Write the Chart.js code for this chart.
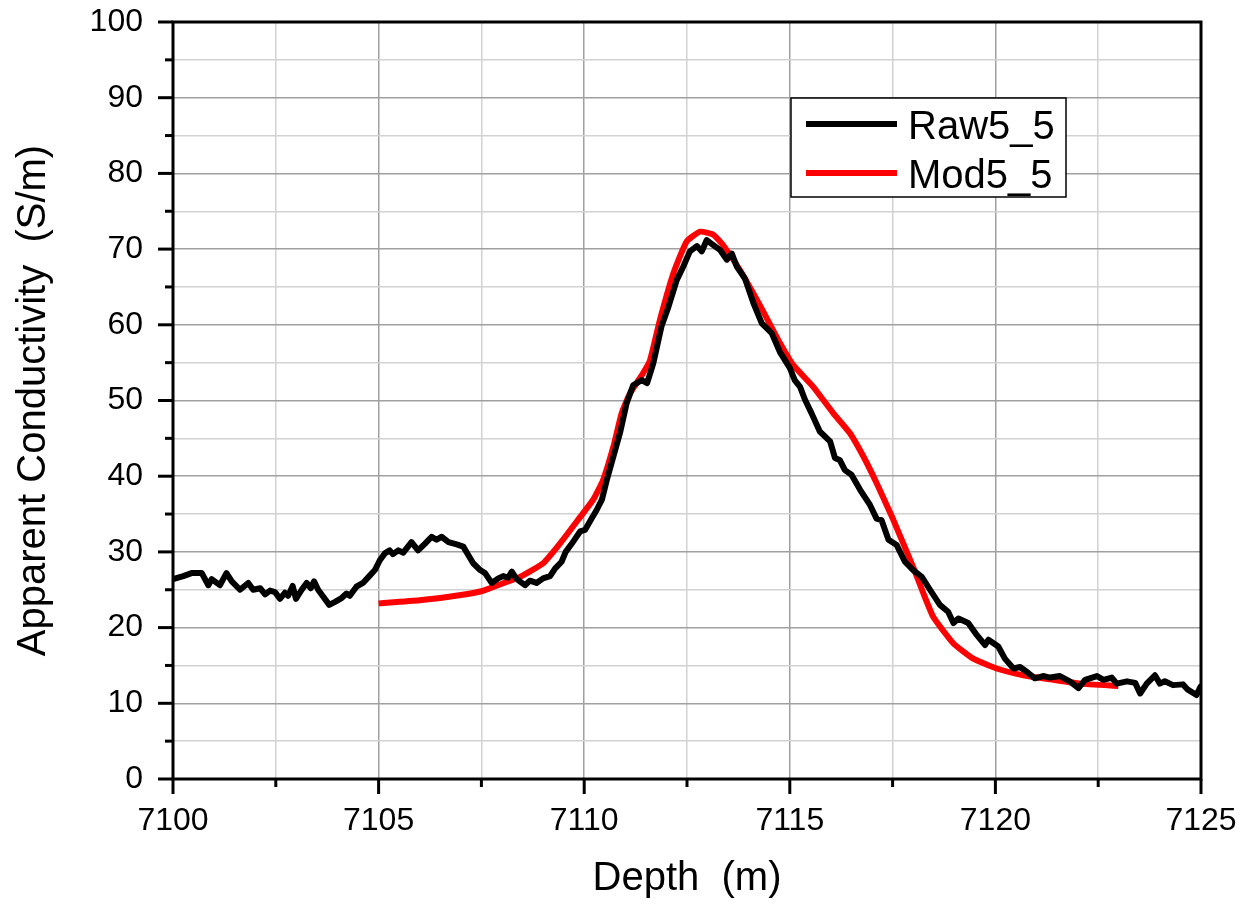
<!DOCTYPE html>
<html>
<head>
<meta charset="utf-8">
<script src="https://cdn.jsdelivr.net/npm/chart.js@4/dist/chart.umd.min.js"></script>
<style>
  html, body { margin: 0; padding: 0; background: #fff; }
  canvas { display: block; }
</style>
</head>
<body>
<canvas id="c" width="1241" height="904"></canvas>
<script>
// ---- Data ----
const rawDepth = [
  7100.0, 7100.25, 7100.45, 7100.7, 7100.86, 7100.94, 7101.14, 7101.3, 7101.43, 7101.63,
  7101.83, 7101.95, 7102.12, 7102.24, 7102.36, 7102.48, 7102.6, 7102.72, 7102.8, 7102.91,
  7102.99, 7103.13, 7103.25, 7103.35, 7103.43, 7103.53, 7103.65, 7103.8, 7103.94, 7104.1,
  7104.22, 7104.3, 7104.46, 7104.62, 7104.79, 7104.91, 7105.03, 7105.15, 7105.27, 7105.35,
  7105.48, 7105.6, 7105.7, 7105.8, 7105.96, 7106.13, 7106.29, 7106.41, 7106.53, 7106.7,
  7106.9, 7107.06, 7107.18, 7107.3, 7107.47, 7107.59, 7107.75, 7107.91, 7108.03, 7108.15,
  7108.24, 7108.36, 7108.56, 7108.68, 7108.84, 7109.0, 7109.17, 7109.29, 7109.45, 7109.55,
  7109.7, 7109.9, 7110.02, 7110.18, 7110.3, 7110.43, 7110.55, 7110.71, 7110.87, 7111.03,
  7111.19, 7111.4, 7111.53, 7111.68, 7111.88, 7112.05, 7112.25, 7112.41, 7112.57, 7112.74,
  7112.86, 7112.98, 7113.1, 7113.3, 7113.47, 7113.59, 7113.71, 7113.91, 7114.12, 7114.32,
  7114.56, 7114.76, 7115.0, 7115.12, 7115.25, 7115.37, 7115.53, 7115.73, 7115.98, 7116.1,
  7116.22, 7116.34, 7116.5, 7116.71, 7116.95, 7117.11, 7117.23, 7117.4, 7117.6, 7117.8,
  7118.0, 7118.21, 7118.41, 7118.65, 7118.85, 7118.98, 7119.1, 7119.34, 7119.55, 7119.75,
  7119.83, 7120.07, 7120.23, 7120.44, 7120.6, 7120.8, 7120.96, 7121.16, 7121.33, 7121.57,
  7121.81, 7122.02, 7122.18, 7122.47, 7122.63, 7122.83, 7122.95, 7123.2, 7123.4, 7123.52,
  7123.68, 7123.88, 7124.0, 7124.12, 7124.32, 7124.56, 7124.68, 7124.89, 7124.99
];
const rawValue = [
  26.4, 26.8, 27.2, 27.2, 25.6, 26.4, 25.6, 27.2, 26.1, 25.0,
  25.9, 25.0, 25.2, 24.4, 24.9, 24.7, 23.8, 24.6, 24.2, 25.5,
  23.8, 25.0, 25.9, 25.2, 26.1, 25.0, 24.1, 23.0, 23.4, 23.9,
  24.5, 24.2, 25.4, 25.9, 26.9, 27.6, 28.9, 29.8, 30.2, 29.7,
  30.2, 29.9, 30.6, 31.3, 30.2, 31.1, 32.0, 31.6, 32.0, 31.3,
  31.0, 30.7, 29.6, 28.5, 27.6, 27.2, 25.9, 26.5, 26.8, 26.6,
  27.4, 26.4, 25.6, 26.2, 25.9, 26.5, 26.8, 27.8, 28.7, 30.0,
  31.1, 32.7, 32.9, 34.4, 35.5, 36.9, 39.5, 42.6, 45.7, 49.6,
  52.0, 52.7, 52.3, 54.9, 59.8, 62.4, 65.9, 67.7, 69.7, 70.4,
  69.7, 71.2, 70.7, 69.9, 68.6, 69.4, 67.7, 66.1, 62.8, 60.2,
  58.9, 56.4, 54.3, 52.7, 51.8, 50.1, 48.3, 45.9, 44.6, 42.4,
  42.1, 40.8, 40.2, 38.2, 36.2, 34.4, 34.2, 31.6, 30.9, 28.7,
  27.6, 26.7, 25.0, 23.0, 22.1, 20.6, 21.2, 20.6, 19.0, 17.7,
  18.4, 17.5, 15.9, 14.6, 14.8, 14.0, 13.3, 13.6, 13.4, 13.6,
  12.9, 12.0, 13.1, 13.6, 13.1, 13.4, 12.6, 12.9, 12.7, 11.3,
  12.6, 13.7, 12.6, 12.9, 12.4, 12.5, 11.8, 11.1, 12.2
];
const modDepth = [
  7105.0, 7106.0, 7107.0, 7107.5, 7108.0, 7108.44, 7109.0, 7109.41, 7109.9, 7110.22,
  7110.46, 7110.71, 7110.91, 7111.11, 7111.43, 7111.6, 7111.84, 7112.17, 7112.49, 7112.82,
  7113.14, 7113.38, 7113.79, 7114.27, 7114.76, 7115.08, 7115.57, 7116.06, 7116.46, 7116.79,
  7117.11, 7117.52, 7118.0, 7118.25, 7118.49, 7118.98, 7119.46, 7120.03, 7120.68, 7121.41,
  7122.06, 7122.99
];
const modValue = [
  23.2, 23.6, 24.3, 24.8, 25.8, 26.7, 28.5, 31.1, 34.6, 36.9,
  39.5, 43.9, 48.3, 50.9, 53.6, 55.3, 60.6, 66.8, 71.0, 72.3,
  71.9, 70.5, 67.2, 62.6, 57.6, 54.7, 51.8, 48.3, 45.7, 42.6,
  39.1, 34.2, 28.0, 24.5, 21.4, 17.9, 15.9, 14.6, 13.7, 13.1,
  12.6, 12.3
];
const seriesNames = ['Raw5_5', 'Mod5_5'];
const seriesColors = ['#000000', '#ff0000'];
const xTitle = 'Depth  (m)';
const yTitle = 'Apparent Conductivity  (S/m)';
const xMin = 7100, xMax = 7125, xStep = 2.5, xLabelStep = 5;
const yMin = 0, yMax = 100, yStep = 5, yLabelStep = 10;

// ---- Chart ----
const FONT = '"Liberation Sans", Arial, Helvetica, sans-serif';
const toPts = (xs, ys) => xs.map((x, i) => ({ x: x, y: ys[i] }));
const isMajor = (v, step) => Math.abs(v / step - Math.round(v / step)) < 1e-6;

const framePlugin = {
  id: 'frame',
  afterDraw(chart) {
    const { ctx, chartArea: a, scales } = chart;
    ctx.save();
    ctx.strokeStyle = '#000';
    ctx.lineWidth = 3;
    ctx.lineCap = 'butt';
    scales.x.ticks.forEach(t => {
      const px = scales.x.getPixelForValue(t.value);
      const len = isMajor(t.value, xLabelStep) ? 15 : 8;
      ctx.beginPath(); ctx.moveTo(px, a.bottom); ctx.lineTo(px, a.bottom + len); ctx.stroke();
    });
    scales.y.ticks.forEach(t => {
      const py = scales.y.getPixelForValue(t.value);
      const len = isMajor(t.value, yLabelStep) ? 15 : 8;
      ctx.beginPath(); ctx.moveTo(a.left, py); ctx.lineTo(a.left - len, py); ctx.stroke();
    });
    ctx.strokeRect(a.left, a.top, a.right - a.left, a.bottom - a.top);
    // legend
    const bx = 791, by = 98, bw = 275, bh = 99;
    ctx.fillStyle = '#fff';
    ctx.fillRect(bx, by, bw, bh);
    ctx.lineWidth = 1.5;
    ctx.strokeRect(bx, by, bw, bh);
    const rows = [124, 173];
    const baselines = [139, 188];
    chart.data.datasets.forEach((ds, i) => {
      ctx.strokeStyle = ds.borderColor;
      ctx.lineWidth = 6;
      ctx.beginPath(); ctx.moveTo(806, rows[i]); ctx.lineTo(897, rows[i]); ctx.stroke();
      ctx.fillStyle = '#000';
      ctx.font = '40px ' + FONT;
      ctx.textAlign = 'left';
      ctx.textBaseline = 'alphabetic';
      ctx.fillText(ds.label, 908, baselines[i]);
    });
    ctx.restore();
  }
};

new Chart(document.getElementById('c'), {
  type: 'line',
  data: {
    datasets: [
      { label: seriesNames[0], data: toPts(rawDepth, rawValue), borderColor: seriesColors[0],
        borderWidth: 6, pointRadius: 0, tension: 0, fill: false, borderJoinStyle: 'round', borderCapStyle: 'round' },
      { label: seriesNames[1], data: toPts(modDepth, modValue), borderColor: seriesColors[1],
        borderWidth: 6, pointRadius: 0, tension: 0.15, fill: false, borderJoinStyle: 'round', borderCapStyle: 'butt' }
    ]
  },
  options: {
    responsive: false,
    animation: false,
    devicePixelRatio: 1,
    layout: { padding: { top: 22, right: 40, bottom: 0, left: 0 } },
    plugins: { legend: { display: false }, tooltip: { enabled: false } },
    scales: {
      x: {
        type: 'linear', min: xMin, max: xMax,
        afterFit(s) { s.height = 125; s.paddingLeft = 0; s.paddingRight = 0; },
        grid: {
          drawTicks: false,
          color: c => isMajor(c.tick.value, xLabelStep) ? '#a0a0a0' : '#d2d2d2',
          lineWidth: 1.5
        },
        border: { display: false },
        ticks: {
          stepSize: xStep, autoSkip: false, maxRotation: 0, padding: 23,
          color: '#000', font: { family: FONT, size: 32 },
          callback: v => isMajor(v, xLabelStep) ? String(v) : ''
        },
        title: { display: true, text: xTitle, color: '#000', font: { family: FONT, size: 40 }, padding: { top: 0, bottom: 1 } }
      },
      y: {
        type: 'linear', min: yMin, max: yMax,
        afterFit(s) { s.width = 173; s.paddingTop = 0; s.paddingBottom = 0; },
        grid: {
          drawTicks: false,
          color: c => isMajor(c.tick.value, yLabelStep) ? '#a0a0a0' : '#d2d2d2',
          lineWidth: 1.5
        },
        border: { display: false },
        ticks: {
          stepSize: yStep, autoSkip: false, padding: 30,
          color: '#000', font: { family: FONT, size: 32 },
          callback: v => isMajor(v, yLabelStep) ? String(v) : ''
        },
        title: { display: true, text: yTitle, color: '#000', font: { family: FONT, size: 40 }, padding: { top: 10, bottom: 0 } }
      }
    }
  },
  plugins: [framePlugin]
});
</script>
</body>
</html>
